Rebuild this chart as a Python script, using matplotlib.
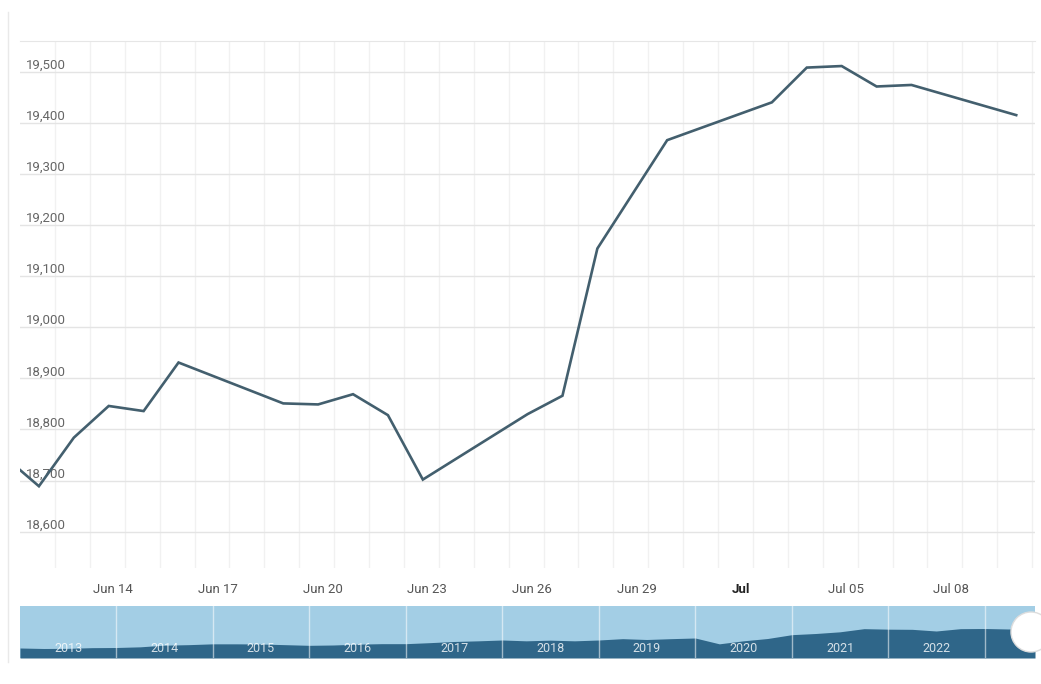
import matplotlib
matplotlib.use('Agg')
import matplotlib.pyplot as plt
import matplotlib.dates as mdates
import matplotlib.transforms as mtransforms
from matplotlib.patches import Ellipse
from matplotlib.lines import Line2D
import numpy as np
import pandas as pd
from datetime import datetime, timedelta

# daily closes, session dates in UTC
dates = ['2023-06-09', '2023-06-12', '2023-06-13', '2023-06-14', '2023-06-15',
         '2023-06-16', '2023-06-19', '2023-06-20', '2023-06-21', '2023-06-22',
         '2023-06-23', '2023-06-26', '2023-06-27', '2023-06-28', '2023-06-30',
         '2023-07-03', '2023-07-04', '2023-07-05', '2023-07-06', '2023-07-07',
         '2023-07-10']
values = [18865, 18689, 18784, 18846, 18836,
          18931, 18851, 18849, 18869, 18828,
          18702, 18830, 18866, 19154, 19366,
          19440, 19508, 19511, 19471, 19474,
          19415]

tick_days = ['2023-06-14', '2023-06-17', '2023-06-20', '2023-06-23', '2023-06-26',
             '2023-06-29', '2023-07-02', '2023-07-05', '2023-07-08']
tick_labels = ['Jun 14', 'Jun 17', 'Jun 20', 'Jun 23', 'Jun 26',
               'Jun 29', 'Jul', 'Jul 05', 'Jul 08']
y_ticks = [18600, 18700, 18800, 18900, 19000, 19100, 19200, 19300, 19400, 19500]

# navigator (long history), quarterly
nav_dates = ['2013-01-01', '2013-04-01', '2013-07-01', '2013-10-01',
             '2014-01-01', '2014-04-01', '2014-07-01', '2014-10-01',
             '2015-01-01', '2015-04-01', '2015-07-01', '2015-10-01',
             '2016-01-01', '2016-04-01', '2016-07-01', '2016-10-01',
             '2017-01-01', '2017-04-01', '2017-07-01', '2017-10-01',
             '2018-01-01', '2018-04-01', '2018-07-01', '2018-10-01',
             '2019-01-01', '2019-04-01', '2019-07-01', '2019-10-01',
             '2020-01-01', '2020-04-01', '2020-07-01', '2020-10-01',
             '2021-01-01', '2021-04-01', '2021-07-01', '2021-10-01',
             '2022-01-01', '2022-04-01', '2022-07-01', '2022-10-01',
             '2023-01-01', '2023-04-01', '2023-07-10']
nav_values = [6000, 5700, 5800, 6200,
              6300, 6700, 7700, 8000,
              8500, 8500, 8400, 8000,
              7600, 7800, 8300, 8600,
              8600, 9200, 9900, 10300,
              10800, 10300, 10700, 10300,
              10800, 11600, 11100, 11600,
              12000, 8500, 10300, 11700,
              14000, 14700, 15700, 17600,
              17300, 17200, 16200, 17600,
              17700, 17400, 18300]
nav_years = [2013, 2014, 2015, 2016, 2017, 2018, 2019, 2020, 2021, 2022]

W, H = 1041, 684
fig = plt.figure(figsize=(W / 100, H / 100), dpi=100)
fig.patch.set_facecolor('white')

def px(x0, y0, x1, y1):
    return [x0 / W, 1 - y1 / H, (x1 - x0) / W, (y1 - y0) / H]

# ---- main chart ----
ax = fig.add_axes(px(20, 41, 1035, 568))
# timestamps shown in UTC-3, like the original page
x = pd.to_datetime(dates) - pd.Timedelta(hours=3)
ax.plot(x, values, color='#435f6e', lw=1.9, solid_joinstyle='miter', zorder=3)

left = datetime(2023, 6, 11, 8, 0)
right = left + timedelta(days=29.08)
ax.set_xlim(left, right)
ax.set_ylim(18529, 19560)

ax.set_xticks(pd.to_datetime(tick_days))
ax.set_xticklabels(tick_labels)
ax.set_xticks(mdates.date2num(left) + np.arange(1, 30), minor=True)
ax.set_yticks(y_ticks)
ax.set_yticklabels([f'{v:,}' for v in y_ticks])

ax.grid(which='minor', axis='x', color='#f1f1f1', lw=1)
ax.grid(which='major', axis='y', color='#e4e4e4', lw=1)
ax.set_axisbelow(True)

ax.tick_params(axis='both', which='both', length=0)
ax.tick_params(axis='x', pad=11, labelsize=9.5, labelcolor='#555555')
ax.tick_params(axis='y', pad=-4, labelsize=9.5, labelcolor='#666666')
for lab in ax.get_yticklabels():
    lab.set_horizontalalignment('left')
    lab.set_verticalalignment('bottom')
for lab in ax.get_xticklabels() + ax.get_yticklabels():
    lab.set_fontfamily('Roboto')
jul = ax.get_xticklabels()[6]
jul.set_fontweight('bold')
jul.set_color('#222222')

for s in ['left', 'right', 'bottom']:
    ax.spines[s].set_visible(False)
ax.spines['top'].set_color('#e6e6e6')

# ---- navigator ----
nav = fig.add_axes(px(20, 606, 1035, 658))
nav.set_facecolor('#a3cee5')
nav_x = pd.to_datetime(nav_dates)
nav.fill_between(nav_x, nav_values, 0, color='#2f6689', lw=0)
nav.set_xlim(datetime(2013, 1, 1), datetime(2023, 7, 10))
nav.set_ylim(0, 31200)
nav.set_xticks([])
nav.set_yticks([])
for s in nav.spines.values():
    s.set_visible(False)
trans = mtransforms.blended_transform_factory(nav.transData, nav.transAxes)
for yr in nav_years:
    if yr > 2013:
        nav.axvline(datetime(yr, 1, 1), color='white', lw=1, alpha=0.55)
    nav.text(datetime(yr, 7, 2), 0.19, str(yr), transform=trans, ha='center', va='center',
             color='white', alpha=0.8, fontsize=9, family='Roboto')
nav.axvline(datetime(2023, 1, 1), color='white', lw=1, alpha=0.55)

# navigator handle at the right end
fig.patches.append(Ellipse((1031 / W, 1 - 632 / H), 40 / W, 40 / H, transform=fig.transFigure,
                           facecolor='white', edgecolor='#dddddd', lw=1, zorder=5))

# page frame line on the left
fig.lines.append(Line2D([8 / W, 8 / W], [1 - 12 / H, 1 - 662 / H], transform=fig.transFigure,
                        color='#e9e9e9', lw=1))

fig.savefig('out.png', dpi=100)
